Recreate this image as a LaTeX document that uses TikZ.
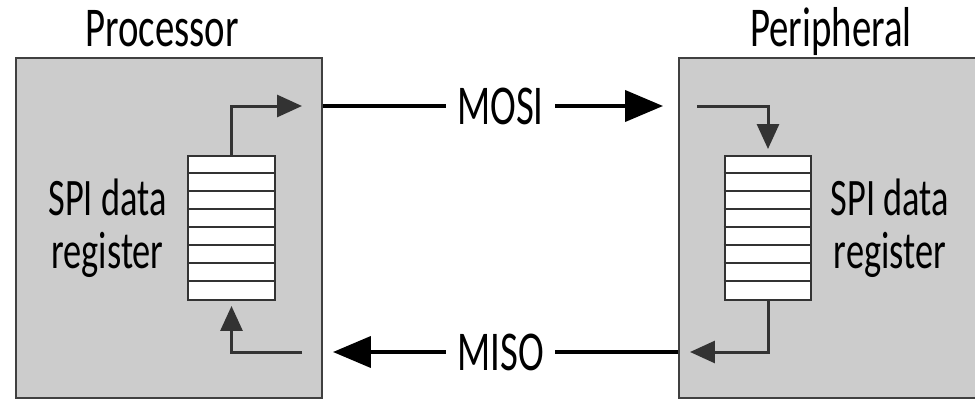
\documentclass[tikz,border=0pt]{standalone}
\usepackage{fontspec}
\setmainfont{Carlito}[FakeStretch=0.69]
\usetikzlibrary{positioning,arrows.meta}

\begin{document}
\begin{tikzpicture}[x=0.02cm, y=-0.02cm, >={Triangle[length=0.5cm,width=0.44cm]}, every node/.style={font=\fontsize{32}{28.5}\selectfont}]
\tikzstyle{unit}=[rectangle, draw=black!75, line width=0.04cm, fill=black!20, minimum width=6.12cm, minimum height=6.8cm, inner sep=0pt]
\tikzstyle{reg}=[rectangle, draw=black!80, line width=0.04cm, fill=white, minimum width=1.74cm, minimum height=2.88cm, inner sep=0pt]
\tikzstyle{wire}=[draw=black!80, line width=0.06cm]
\tikzstyle{bus}=[draw=black, line width=0.08cm, -{Triangle[length=0.76cm,width=0.62cm]}]
\tikzstyle{busname}=[fill=white, inner xsep=0.22cm, inner ysep=0pt]
\tikzstyle{regname}=[align=center, inner sep=0pt, font=\fontsize{30}{30}\selectfont]

\useasboundingbox (0,0) rectangle (975,399);
\clip (0,0) rectangle (975,399);

% The two units
\node[unit] (proc) at (169,228) {};
\node[unit] (peri) at (832,228) {};
\node[anchor=base] (proctitle) at (162,47) {Processor};
\node[anchor=base] (perititle) at (831,47) {Peripheral};

% Shift registers
\node[reg] (preg) at (231.5,228) {};
\node[reg] (qreg) at (768,228) {};
\foreach \k in {1,...,7} {
  \draw[line width=0.04cm, black!80] ([yshift=-\k*0.36cm]preg.north west) -- ([yshift=-\k*0.36cm]preg.north east);
  \draw[line width=0.04cm, black!80] ([yshift=-\k*0.36cm]qreg.north west) -- ([yshift=-\k*0.36cm]qreg.north east);
}
\node[regname, left=0.4cm of preg] (ptext) {SPI data\\register};
\node[regname, right=0.36cm of qreg] (qtext) {SPI data\\register};

% Inner wiring
\coordinate (pout) at (302,106);
\coordinate (pin) at (302,352);
\coordinate (qin) at (697,106);
\coordinate (qout) at (690,352);
\draw[wire,->] (preg.north) |- (pout);
\draw[wire,->,shorten >=0.1cm] (pin) -| (preg.south);
\draw[wire,->,shorten >=0.12cm] (qin) -| (qreg.north);
\draw[wire,->] (qreg.south) |- (qout);

% Bus lines between the units
\draw[bus, shorten >=0.3cm] (proc.east |- pout) -- node[busname] (mosi) {MOSI} (peri.west |- pout);
\draw[bus, shorten >=0.2cm] (peri.west |- pin) -- node[busname] (miso) {MISO} (proc.east |- pin);
\end{tikzpicture}
\end{document}
